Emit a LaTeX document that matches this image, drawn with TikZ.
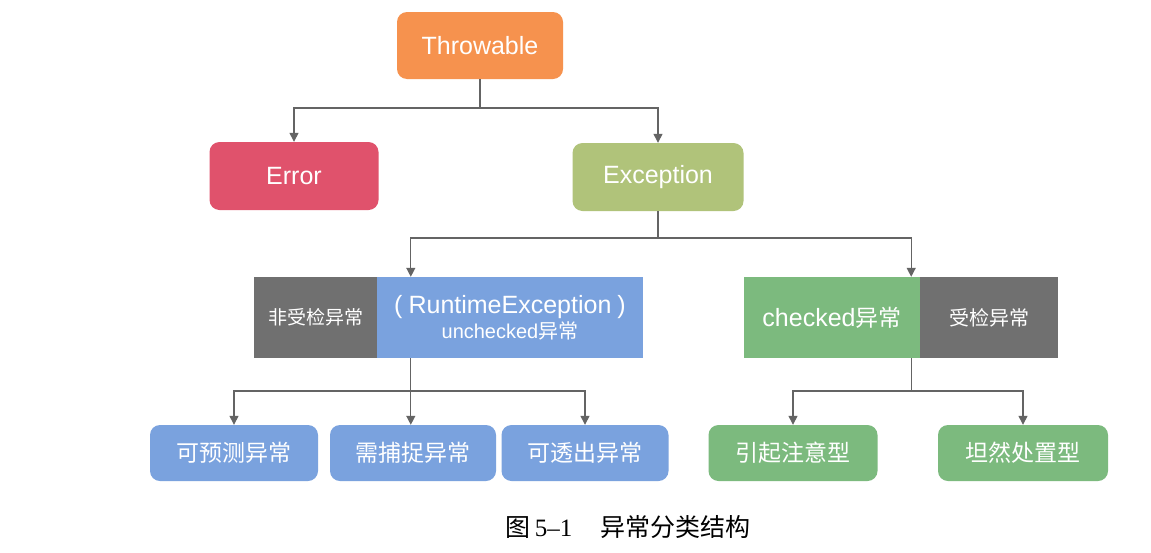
\documentclass[tikz,border=0pt]{standalone}
\usepackage{fontspec}
\setmainfont{Liberation Sans}
\newfontfamily\cjk{Noto Sans CJK SC}
\newfontfamily\serifnum{Liberation Serif}
\usetikzlibrary{arrows.meta,calc}
\definecolor{cThrow}{RGB}{246,146,78}
\definecolor{cErr}{RGB}{224,82,108}
\definecolor{cExc}{RGB}{176,195,122}
\definecolor{cGrey}{RGB}{112,112,112}
\definecolor{cBlue}{RGB}{122,162,222}
\definecolor{cGreen}{RGB}{124,186,126}
\definecolor{cLine}{RGB}{100,100,100}
\tikzset{
  rbox/.style={draw=none, rounded corners=10pt, inner sep=0pt, text=white, font=\fontsize{25}{28}\selectfont, anchor=center},
  sbox/.style={draw=none, inner sep=0pt, text=white, anchor=center, align=center},
  ln/.style={draw=cLine, line width=1.3pt},
  arr/.style={ln, -{Triangle[length=9pt,width=9pt]}},
}
\begin{document}
\begin{tikzpicture}[x=1pt,y=-1pt]
\useasboundingbox[fill=white] (0,0) rectangle (1151,552);
% row 1
\node[rbox, fill=cThrow, minimum width=166pt, minimum height=67pt] (throw) at (480,45.5) {Throwable};
% row 2
\node[rbox, fill=cErr, minimum width=169pt, minimum height=68pt] (err) at (294,176) {Error};
\node[rbox, fill=cExc, minimum width=171pt, minimum height=68pt] (exc) at (658,177) {Exception};
% row 3 left
\node[sbox, fill=cGrey, minimum width=123pt, minimum height=81pt, font=\cjk\fontsize{19}{22}\selectfont] (unc) at (315.5,317.5) {非受检异常};
\node[sbox, fill=cBlue, minimum width=266pt, minimum height=81pt] (rt) at (510,317.5)
  {{\fontsize{25}{28}\selectfont (\hspace{6pt}RuntimeException\hspace{6pt})}\\[2pt]
   {\fontsize{20}{24}\selectfont unchecked\cjk 异常}};
% row 3 right
\node[sbox, fill=cGreen, minimum width=176pt, minimum height=81pt, font=\fontsize{25}{28}\selectfont] (chk) at (832,317.5) {checked{\cjk\fontsize{23}{26}\selectfont 异常}};
\node[sbox, fill=cGrey, minimum width=138pt, minimum height=81pt, font=\cjk\fontsize{20}{24}\selectfont] (ck) at (989,317.5) {受检异常};
% row 4
\node[rbox, fill=cBlue, minimum width=168pt, minimum height=56pt, font=\cjk\fontsize{23}{26}\selectfont] (b1) at (234,453) {可预测异常};
\node[rbox, fill=cBlue, minimum width=166pt, minimum height=56pt, font=\cjk\fontsize{23}{26}\selectfont] (b2) at (413,453) {需捕捉异常};
\node[rbox, fill=cBlue, minimum width=167pt, minimum height=56pt, font=\cjk\fontsize{23}{26}\selectfont] (b3) at (585,453) {可透出异常};
\node[rbox, fill=cGreen, minimum width=169pt, minimum height=56pt, font=\cjk\fontsize{23}{26}\selectfont] (r1) at (793,453) {引起注意型};
\node[rbox, fill=cGreen, minimum width=170pt, minimum height=56pt, font=\cjk\fontsize{23}{26}\selectfont] (r2) at (1023,453) {坦然处置型};
% caption
\node[inner sep=0pt, font=\fontsize{25}{28}\selectfont] (cap) at (628,527) {{\cjk 图}\,{\serifnum 5–1}\hspace{28pt}{\cjk 异常分类结构}};
% anchor coordinates on the split boxes
\coordinate (rtin) at ($(rt.north west)+(34,0)$);
\coordinate (rtout) at ($(rt.south west)+(34,0)$);
\coordinate (chkin) at ($(chk.north east)+(-9,0)$);
\coordinate (chkout) at ($(chk.south east)+(-9,0)$);
\coordinate (j1) at (480,108);
\coordinate (j2) at (658,238);
\coordinate (j3) at (411,391);
\coordinate (j4) at (911,391);
% connectors
\draw[ln] (throw.south) -- (j1);
\draw[arr] (j1) -| (err.north);
\draw[arr] (j1) -| (exc.north);
\draw[ln] (exc.south) -- (j2);
\draw[arr] (j2) -| (rtin);
\draw[arr] (j2) -| (chkin);
\draw[ln] (rtout) -- (rtout |- j3);
\draw[arr] (rtout |- j3) -| (b1.north);
\draw[arr] (rtout |- j3) -- (b2.north -| rtout);
\draw[arr] (rtout |- j3) -| (b3.north);
\draw[ln] (chkout) -- (chkout |- j4);
\draw[arr] (chkout |- j4) -| (r1.north);
\draw[arr] (chkout |- j4) -| (r2.north);
\end{tikzpicture}
\end{document}
